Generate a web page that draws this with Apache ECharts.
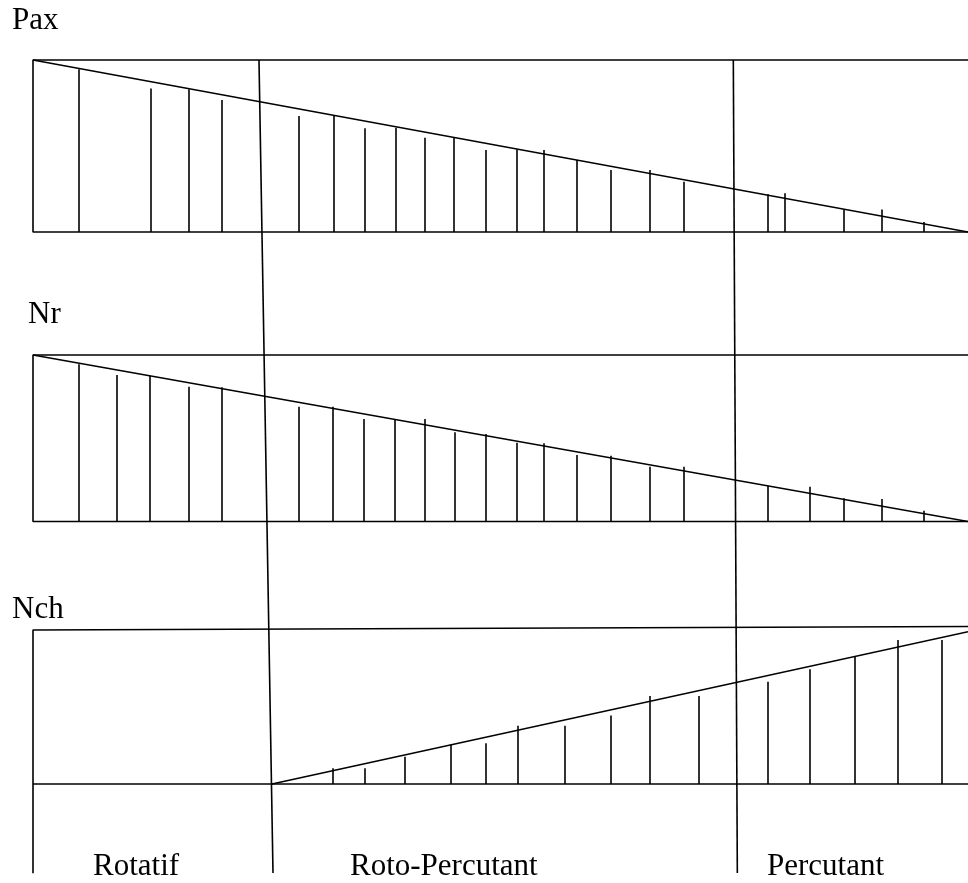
<!DOCTYPE html>
<html>
<head>
<meta charset="utf-8">
<script src="https://cdn.jsdelivr.net/npm/echarts@6/dist/echarts.min.js"></script>
<style>
html,body{margin:0;padding:0;background:#fff;}
#chart{width:968px;height:883px;}
</style>
</head>
<body>
<div id="chart"></div>
<script>
// ---- data (x: 0..100 along the horizontal scale, y: 0..100 relative height) ----
const panelLabels = ['Pax', 'Nr', 'Nch'];
const modeLabels = ['Rotatif', 'Roto-Percutant', 'Percutant'];

const paxHatchX   = [4.92, 12.55, 16.68, 20.21, 28.45, 32.19, 35.43, 38.75, 41.87, 44.97, 48.42, 51.76, 54.58, 58.18, 61.82, 65.99, 69.55, 78.58, 80.43, 86.66, 90.73, 95.22];
const paxHatchTop = [94.6, 83.5, 83.0, 76.7, 67.4, 67.8, 60.3, 60.6, 54.8, 55.1, 47.7, 48.1, 47.7, 41.9, 36.0, 36.0, 29.2, 21.9, 22.5, 13.1, 13.1, 5.8];
const paxLine = [[0, 100], [100, 0]];

const nrHatchX   = [4.92, 8.98, 12.51, 16.68, 20.21, 28.45, 32.09, 35.40, 38.72, 41.93, 45.13, 48.37, 51.76, 54.58, 58.18, 61.82, 65.91, 69.55, 78.58, 83.03, 86.66, 90.73, 95.22];
const nrHatchTop = [94.4, 88.0, 87.4, 81.0, 80.6, 68.9, 68.9, 61.6, 61.4, 61.6, 53.6, 52.6, 47.3, 47.0, 39.9, 39.5, 32.9, 32.9, 21.5, 20.9, 13.9, 13.5, 6.5];
const nrLine = [[0, 100], [100, 0]];

const nchHatchX   = [32.09, 35.51, 39.79, 44.71, 48.37, 51.80, 56.90, 61.82, 65.99, 71.23, 78.53, 83.03, 87.86, 92.46, 97.14];
const nchHatchTop = [10.2, 10.2, 17.7, 25.8, 26.4, 37.9, 37.9, 44.4, 57.1, 57.1, 66.4, 74.5, 82.7, 93.5, 93.5];
const nchLine = [[25.56, 0], [100, 98.9]];
const nchFrameTop = [[0, 100], [100, 102.3]];

// separators between modes: x at top of figure, x at bottom of figure
const separatorTopX = [24.17, 74.90];
const separatorBottomX = [25.67, 75.33];

// ---- chart ----
const INK = '#000';
const LW = 1.6;
const chart = echarts.init(document.getElementById('chart'), null, {renderer: 'canvas'});

function hatchData(xs, tops) {
  return xs.map((x, i) => ({coords: [[x, 0], [x, tops[i]]]}));
}
function lineSeries(idx, data, name) {
  return {
    type: 'line', name: name, xAxisIndex: idx, yAxisIndex: idx,
    data: data, symbol: 'none', clip: false, silent: true,
    lineStyle: {color: INK, width: LW}
  };
}
function hatchSeries(idx, xs, tops, name) {
  return {
    type: 'lines', name: name, coordinateSystem: 'cartesian2d',
    xAxisIndex: idx, yAxisIndex: idx, silent: true, clip: false,
    data: hatchData(xs, tops),
    lineStyle: {color: INK, width: LW, opacity: 1}
  };
}

const grids = [
  {left: 33, right: 0, top: 60, height: 172},
  {left: 33, right: 0, top: 355, height: 166.5},
  {left: 33, right: 0, top: 625.38, height: 247.94},
  {left: 33, right: 0, top: 60, height: 813}
];
const xAxes = grids.map((g, i) => ({gridIndex: i, type: 'value', min: 0, max: 100, show: false}));
const yAxes = [
  {gridIndex: 0, type: 'value', min: 0, max: 100, show: false},
  {gridIndex: 1, type: 'value', min: 0, max: 100, show: false},
  {gridIndex: 2, type: 'value', min: -58, max: 103, show: false},
  {gridIndex: 3, type: 'value', min: 0, max: 1, show: false}
];

const series = [
  // Pax
  lineSeries(0, [[100, 100], [0, 100], [0, 0], [100, 0]], 'Pax frame'),
  lineSeries(0, paxLine, 'Pax'),
  hatchSeries(0, paxHatchX, paxHatchTop, 'Pax hatch'),
  // Nr
  lineSeries(1, [[100, 100], [0, 100], [0, 0], [100, 0]], 'Nr frame'),
  lineSeries(1, nrLine, 'Nr'),
  hatchSeries(1, nrHatchX, nrHatchTop, 'Nr hatch'),
  // Nch
  lineSeries(2, [nchFrameTop[1], nchFrameTop[0], [0, -58]], 'Nch frame'),
  lineSeries(2, [[0, 0], [100, 0]], 'Nch base'),
  lineSeries(2, nchLine, 'Nch'),
  hatchSeries(2, nchHatchX, nchHatchTop, 'Nch hatch'),
  // separators
  {
    type: 'lines', name: 'separators', coordinateSystem: 'cartesian2d',
    xAxisIndex: 3, yAxisIndex: 3, silent: true, clip: false,
    data: separatorTopX.map((x, i) => ({coords: [[x, 1], [separatorBottomX[i], 0]]})),
    lineStyle: {color: INK, width: LW, opacity: 1}
  }
];

const FONT = '31px "Liberation Serif", "Times New Roman", serif';
const labelPos = [[12, 21], [28, 315], [12, 610]];
const modePos = [[93, 867], [350, 867], [767, 867]];
const graphic = [];
panelLabels.forEach((t, i) => graphic.push({
  type: 'text', x: labelPos[i][0], y: labelPos[i][1], silent: true,
  style: {text: t, font: FONT, fill: INK, verticalAlign: 'middle', align: 'left'}
}));
modeLabels.forEach((t, i) => graphic.push({
  type: 'text', x: modePos[i][0], y: modePos[i][1], silent: true,
  style: {text: t, font: FONT, fill: INK, verticalAlign: 'middle', align: 'left'}
}));

chart.setOption({
  animation: false,
  backgroundColor: '#fff',
  grid: grids,
  xAxis: xAxes,
  yAxis: yAxes,
  series: series,
  graphic: graphic
});
</script>
</body>
</html>
